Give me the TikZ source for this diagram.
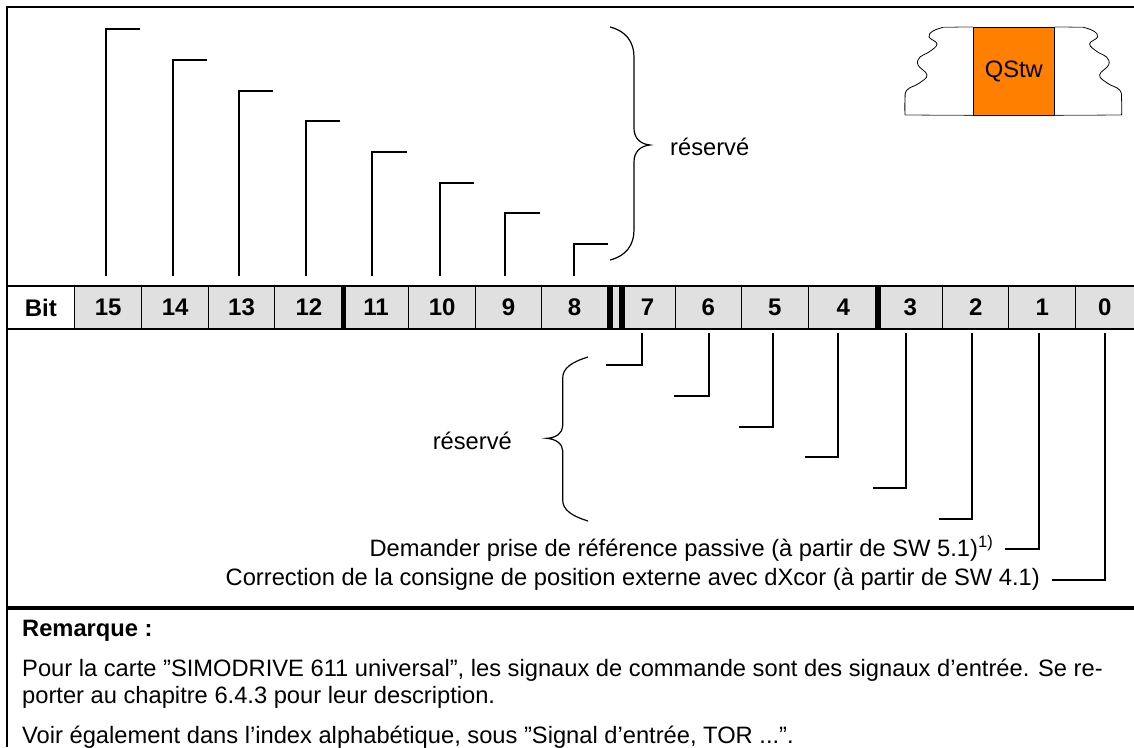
\documentclass[tikz,border=0pt]{standalone}
\usepackage{fontspec}
\setmainfont{Liberation Sans}
\definecolor{cellgray}{HTML}{E0E0E0}
\definecolor{qorange}{HTML}{FF8000}
\begin{document}
\begin{tikzpicture}[x=1pt,y=-1pt,
  txt/.style={font=\fontsize{23.7}{27}\selectfont, inner sep=0pt},
  boldtxt/.style={font=\fontsize{23.7}{27}\bfseries\selectfont, inner sep=0pt},
  bitcell/.style={draw, line width=1pt, minimum height=43pt, inner sep=0pt,
    font=\fontsize{24}{26}\bfseries\selectfont},
  stepline/.style={line width=2pt},
  sepbar/.style={line width=5.6pt},
  brace/.style={line width=1.2pt},
  frameline/.style={line width=1.5pt},
  thin/.style={line width=0.8pt}]
\useasboundingbox (0,0) rectangle (1134,747);

% outer frame and the separator above the remark
\draw[frameline] (7,747) -- (7,7) -- (1134,7);
\draw[line width=4pt] (7,608) -- (1134,608);

% bit row
\fill[cellgray] (74.6,286) rectangle (1134,329);
\node[bitcell, fill=white, minimum width=67.6pt] (bit) at (40.8,307.5) {Bit};
\foreach \b/\c/\w in {15/108.1/67, 14/175.1/67, 13/241.5/65.8, 12/308.95/69.1,
    11/376.1/65.2, 10/442.2/67, 9/508.6/65.8, 8/574.55/66.1, 7/647.55/55.7,
    6/708.35/65.9, 5/774.85/67.1, 4/843.2/69.6, 3/910.4/64.8, 2/975.75/65.9,
    1/1042.25/67.1, 0/1104.9/58.2}
  \node[bitcell, minimum width=\w pt] (b\b) at (\c,307.5) {\b};
\draw[frameline] (7,286) -- (1134,286);
\draw[frameline] (7,329) -- (1134,329);
\draw[sepbar] (343.5,286) -- (343.5,329);
\draw[sepbar] (610.5,286) -- (610.5,329);
\draw[sepbar] (622.5,286) -- (622.5,329);
\draw[sepbar] (878,286) -- (878,329);

% upper bits 15..8
\foreach \b/\x/\y/\r in {15/106/29.3/140, 14/172.7/60/206.7, 13/239.3/90.7/273,
    12/306/121/340, 11/372.3/152/406.7, 10/440/183/474, 9/505.3/213.3/540,
    8/574.3/244.3/608} {
  \coordinate (u\b) at (\r,\y);
  \coordinate (f\b) at (\x,276);
  \draw[stepline] (u\b) -| (f\b);
}

% lower bits 7..0
\foreach \b/\x/\y/\l in {7/641.7/365/606, 6/709/396/674, 5/773/426.7/739,
    4/838/457/805, 3/906/488/873, 2/972/518.5/939, 1/1039.3/549/1005,
    0/1105/580/1052} {
  \coordinate (f\b) at (\x,333);
  \coordinate (l\b) at (\l,\y);
  \draw[stepline] (f\b) |- (l\b);
}

% braces for the reserved bits
\draw[brace] (610,27) .. controls (626,31) and (634,42) .. (634,57) -- (634,128)
  .. controls (634,138) and (640,144) .. (650,145)
  .. controls (640,146) and (634,152) .. (634,162) -- (634,230)
  .. controls (634,245) and (626,256) .. (610,260);
\draw[brace] (588,357) .. controls (572,362) and (562.7,368) .. (562.7,378) -- (562.7,426)
  .. controls (562.7,433) and (556,438) .. (546.7,438.3)
  .. controls (556,439) and (562.7,444) .. (562.7,451) -- (562.7,500)
  .. controls (562.7,510) and (572,516) .. (588,521);
\node[txt, anchor=base west] (resup) at (670,155) {réservé};
\node[txt, anchor=base east] (reslow) at (512,449) {réservé};

% descriptions of bits 1 and 0
\node[txt, anchor=base east] (d1) at (993,556)
  {Demander prise de référence passive (à partir de SW 5.1)\raisebox{9pt}{\fontsize{16.5}{18}\selectfont 1)}};
\node[txt, anchor=base east] (d0) at (1040,585)
  {Correction de la consigne de position externe avec dXcor (à partir de SW 4.1)};

% QStw word symbol
\node[draw, thin, fill=qorange, minimum width=81pt, minimum height=87.7pt,
  inner sep=0pt, font=\fontsize{23.7}{27}\selectfont] (qstw) at (1013.8,71.15) {QStw};
\draw[thin, black!75] (943.3,27.3) -- (qstw.north west);
\draw[thin, black!75] (qstw.north east) -- (1083.3,27.3);
\draw[thin, black!75] (905,115) -- (qstw.south west);
\draw[thin, black!75] (qstw.south east) -- (1121.6,115);
\draw[thin] plot[smooth, tension=0.7] coordinates {(943.3,27.3) (933,31) (929,37)
  (937,44) (929,52) (920,57) (918,65) (927,75) (919,83.3) (907,90)
  (905,100) (905,115)};
\draw[thin] plot[smooth, tension=0.7] coordinates {(1083.3,27.3) (1093.6,31) (1097.6,37)
  (1089.6,44) (1097.6,52) (1106.6,57) (1108.6,65) (1099.6,75) (1107.6,83.3)
  (1119.6,90) (1121.6,100) (1121.6,115)};

% remark
\node[boldtxt, anchor=base west] (rem) at (22,636) {Remarque :};
\node[txt, anchor=base west] (rem1) at (22,676)
  {Pour la carte ”SIMODRIVE 611 universal”, les signaux de commande sont des signaux d’entrée. Se re-};
\node[txt, anchor=base west] (rem2) at (22,703)
  {porter au chapitre 6.4.3 pour leur description.};
\node[txt, anchor=base west] (rem3) at (22,743)
  {Voir également dans l’index alphabétique, sous ”Signal d’entrée, TOR ...”.};
\end{tikzpicture}
\end{document}
